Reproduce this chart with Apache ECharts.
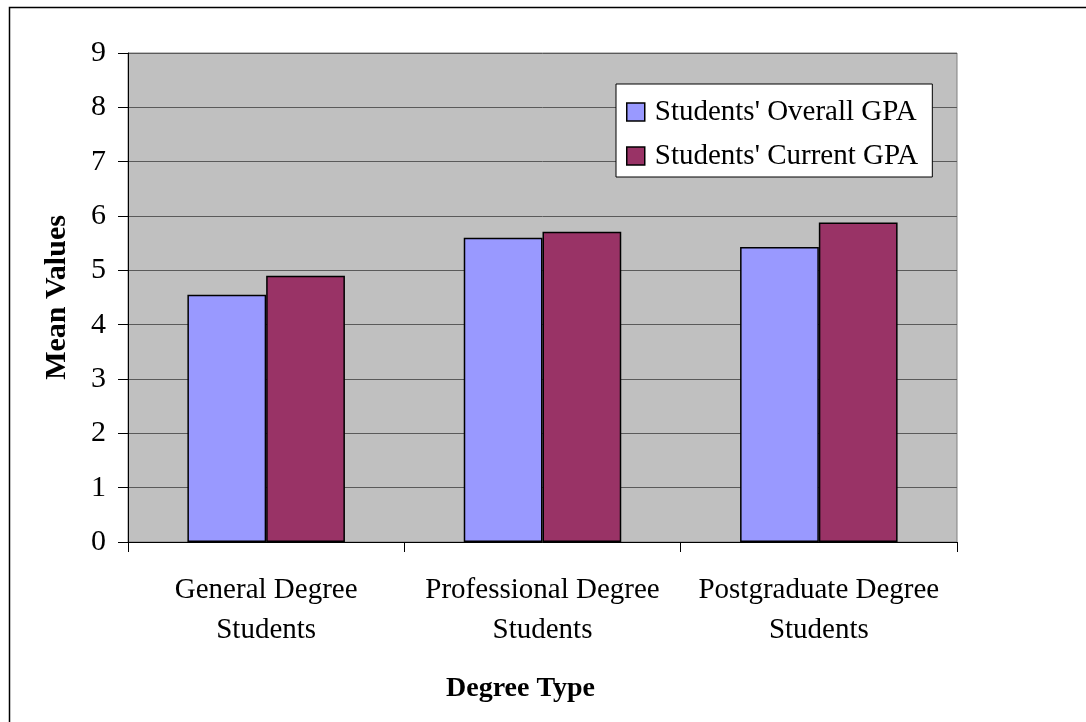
<!DOCTYPE html>
<html>
<head>
<meta charset="utf-8">
<script src="https://cdn.jsdelivr.net/npm/echarts@6/dist/echarts.min.js"></script>
<style>
html,body{margin:0;padding:0;background:#fff;}
#c{width:1086px;height:722px;}
</style>
</head>
<body>
<div id="c"></div>
<script>
const categories = ['General Degree\nStudents', 'Professional Degree\nStudents', 'Postgraduate Degree\nStudents'];
const seriesNames = ["Students' Overall GPA", "Students' Current GPA"];
const overallGPA = [4.55, 5.60, 5.43];
const currentGPA = [4.90, 5.71, 5.88];
const yTicks = [0, 1, 2, 3, 4, 5, 6, 7, 8, 9];

const FONT = '"Liberation Serif", "Times New Roman", serif';
const chart = echarts.init(document.getElementById('c'), null, {renderer: 'canvas'});
chart.setOption({
  animation: false,
  backgroundColor: '#ffffff',
  textStyle: {fontFamily: FONT},
  graphic: [{
    type: 'polyline',
    shape: {points: [[9.5, 722], [9.5, 7.5], [1086, 7.5]]},
    style: {stroke: '#000', lineWidth: 1.5, fill: null},
    silent: true
  }],
  grid: {
    left: 128, right: 129, top: 53, bottom: 180,
    show: true, backgroundColor: '#C0C0C0', borderColor: '#808080', borderWidth: 1,
    containLabel: false
  },
  legend: {
    orient: 'vertical',
    left: 616, top: 84,
    backgroundColor: '#ffffff', borderColor: '#000', borderWidth: 1,
    padding: [13, 14, 6, 10],
    itemWidth: 18, itemHeight: 18, itemGap: 14,
    icon: 'rect',
    itemStyle: {borderColor: '#000', borderWidth: 1.5},
    textStyle: {fontFamily: FONT, fontSize: 29, color: '#000', lineHeight: 30, padding: [0, 0, 0, 5]},
    data: seriesNames
  },
  xAxis: {
    type: 'category',
    data: categories,
    name: 'Degree Type',
    nameLocation: 'middle',
    nameGap: 133,
    nameTextStyle: {fontFamily: FONT, fontSize: 28, fontWeight: 'bold', color: '#000', padding: [0, 44, 0, 0]},
    axisLine: {lineStyle: {color: '#000', width: 1}},
    axisTick: {show: true, interval: 0, length: 10, lineStyle: {color: '#000'}},
    axisLabel: {interval: 0, fontFamily: FONT, fontSize: 29, color: '#000', lineHeight: 40, margin: 28}
  },
  yAxis: {
    type: 'value',
    min: 0, max: 9, interval: 1,
    name: 'Mean Values',
    nameLocation: 'middle',
    nameGap: 56,
    nameRotate: 90,
    nameTextStyle: {fontFamily: FONT, fontSize: 30, fontWeight: 'bold', color: '#000'},
    axisLine: {show: true, lineStyle: {color: '#000', width: 1}},
    axisTick: {show: true, length: 10, lineStyle: {color: '#000'}},
    axisLabel: {fontFamily: FONT, fontSize: 30, color: '#000', margin: 22,
      formatter: v => yTicks.includes(v) ? String(v) : ''},
    splitLine: {show: true, lineStyle: {color: '#5a5a5a', width: 1}}
  },
  series: [
    {
      name: seriesNames[0], type: 'bar', data: overallGPA,
      barGap: '0%', barCategoryGap: '43%',
      itemStyle: {color: '#9999FF', borderColor: '#000', borderWidth: 1.5}
    },
    {
      name: seriesNames[1], type: 'bar', data: currentGPA,
      barGap: '0%', barCategoryGap: '43%',
      itemStyle: {color: '#993366', borderColor: '#000', borderWidth: 1.5}
    }
  ]
});
</script>
</body>
</html>
